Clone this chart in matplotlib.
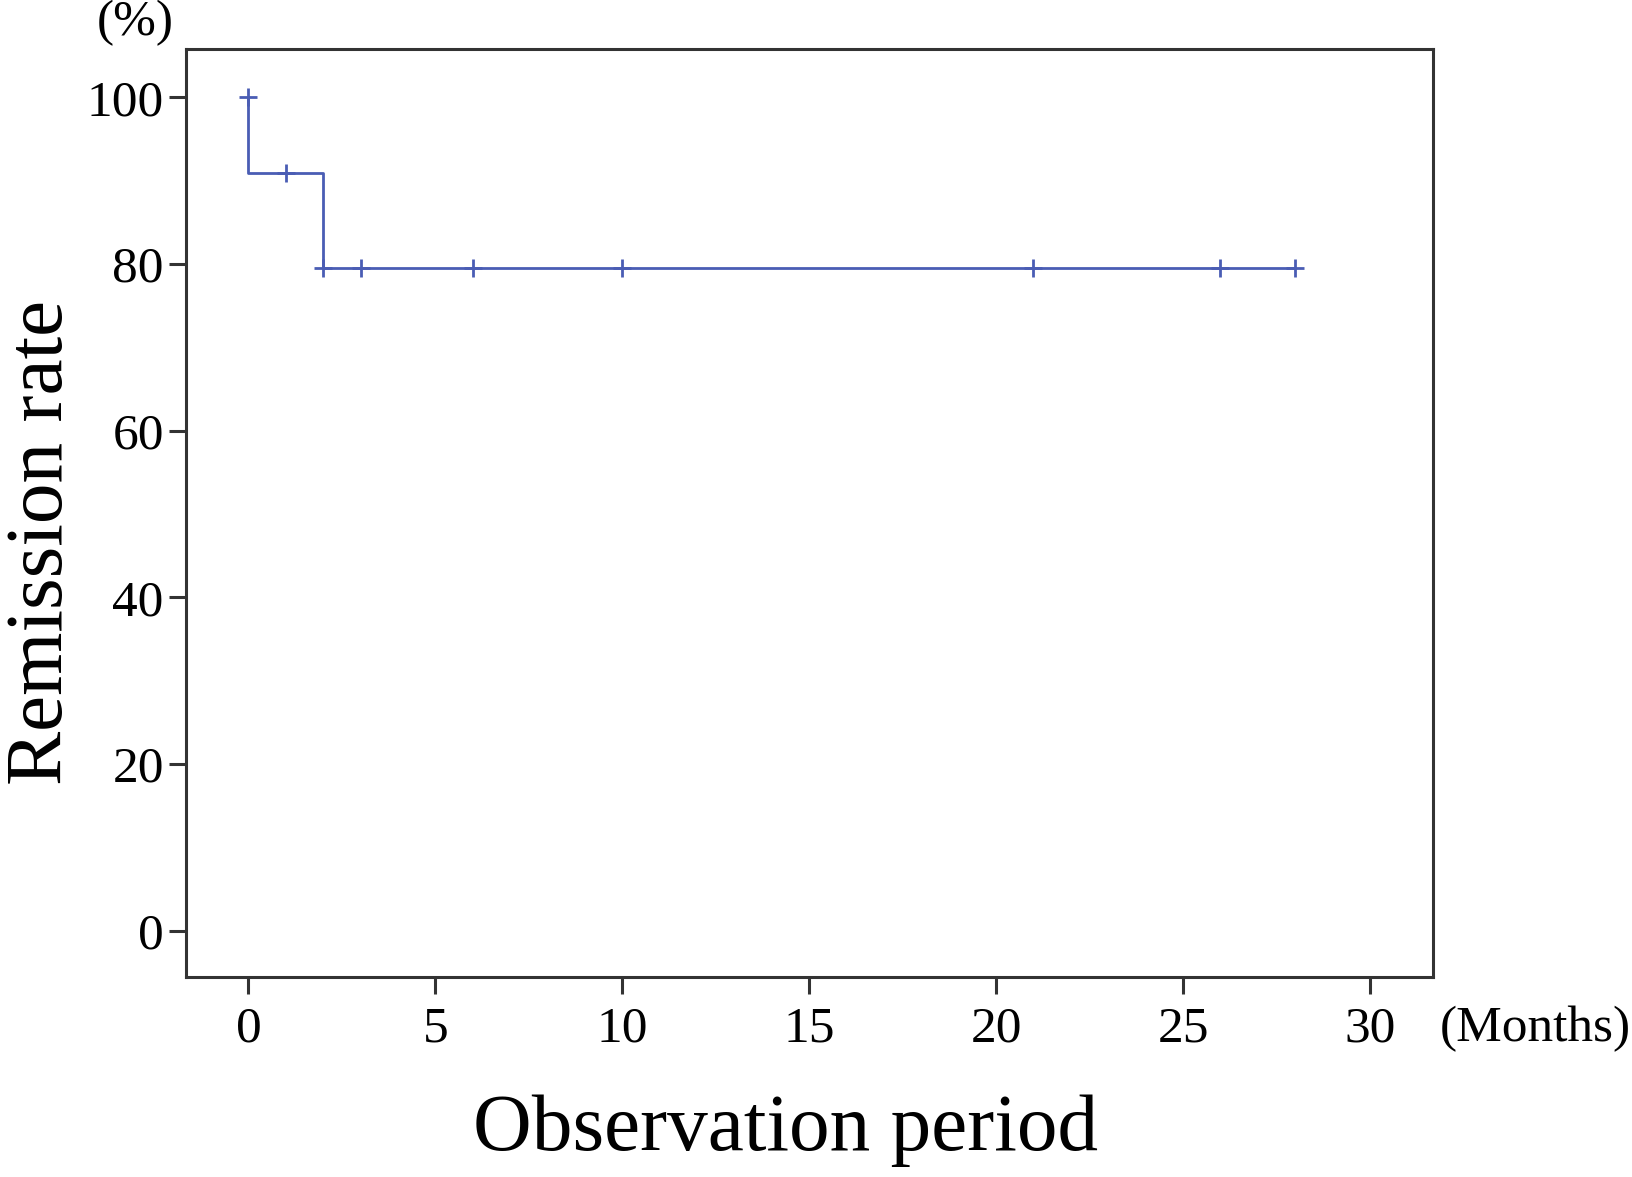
import matplotlib.pyplot as plt
import numpy as np

# Kaplan-Meier style remission curve
months = [0, 0, 2, 28]
remission = [100, 90.9, 79.5, 79.5]
censor_months = [0, 1, 2, 3, 6, 10, 21, 26, 28]
censor_rate = [100, 90.9, 79.5, 79.5, 79.5, 79.5, 79.5, 79.5, 79.5]

x_ticks = [0, 5, 10, 15, 20, 25, 30]
y_ticks = [0, 20, 40, 60, 80, 100]

plt.rcParams['font.family'] = ['Liberation Serif', 'DejaVu Serif']
line_color = '#4a5db4'

fig = plt.figure(figsize=(16.33, 11.77), dpi=100)
ax = fig.add_axes([0.1139, 0.1702, 0.8776 - 0.1139, 0.9584 - 0.1702])

ax.step(months, remission, where='post', color=line_color, lw=2.0)
ax.plot(censor_months, censor_rate, ls='none', marker='+', ms=13, mew=2.0, color=line_color)

ax.set_xlim(-1.67, 31.69)
ax.set_ylim(-5.5, 105.8)
ax.set_xticks(x_ticks)
ax.set_yticks(y_ticks)

for s in ax.spines.values():
    s.set_color('#333333')
    s.set_linewidth(2.2)
ax.tick_params(direction='out', length=12, width=2.2, color='#333333',
               labelsize=37)
ax.tick_params(axis='x', pad=9)
ax.tick_params(axis='y', pad=4)

ax.set_xlabel('Observation period', fontsize=58.5, va='center')
ax.set_ylabel('Remission rate', fontsize=58.5, va='center')
ax.xaxis.set_label_coords(0.481, -0.166)
ax.yaxis.set_label_coords(-0.115, 0.4685)

fig.text(1440 / 1633, 1 - 1029 / 1177, '(Months)', fontsize=37, ha='left', va='center')
fig.text(135 / 1633, 1 - 23 / 1177, '(%)', fontsize=37, ha='center', va='center')

fig.savefig('out.png', dpi=100)
